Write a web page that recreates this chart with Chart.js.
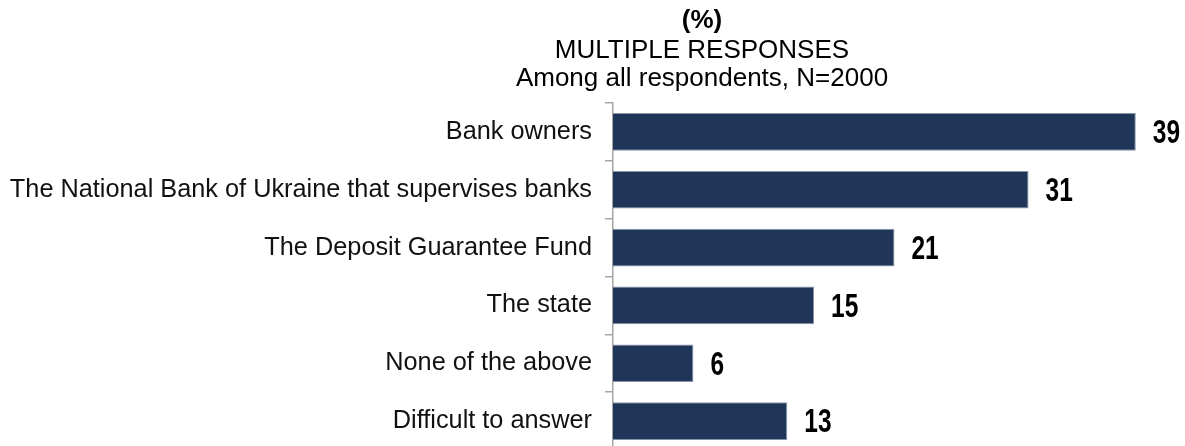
<!DOCTYPE html>
<html>
<head>
<meta charset="utf-8">
<script src="https://cdn.jsdelivr.net/npm/chart.js@4/dist/chart.umd.min.js"></script>
<style>
  html, body { margin: 0; padding: 0; background: #fff; overflow: hidden; }
  #wrap { width: 1185px; height: 450px; }
</style>
</head>
<body>
<div id="wrap"><canvas id="c" width="1185" height="450"></canvas></div>
<script>
const categories = [
  'Bank owners',
  'The National Bank of Ukraine that supervises banks',
  'The Deposit Guarantee Fund',
  'The state',
  'None of the above',
  'Difficult to answer'
];
const shares = [39, 31, 21, 15, 6, 13];
const titleText = '(%)';
const subtitleLines = ['MULTIPLE RESPONSES', 'Among all respondents, N=2000'];

const FONT = '"Liberation Sans", Arial, Helvetica, sans-serif';

// Heading block, centred over the bars
const heading = {
  id: 'heading',
  afterDraw(chart) {
    const ctx = chart.ctx;
    const cx = 702;
    ctx.save();
    ctx.fillStyle = '#000';
    ctx.textAlign = 'center';
    ctx.textBaseline = 'middle';
    ctx.font = 'bold 26px ' + FONT;
    ctx.fillText(titleText, cx, 21);
    ctx.font = '26px ' + FONT;
    ctx.fillText(subtitleLines[0], cx, 51);
    ctx.fillText(subtitleLines[1], cx, 79);
    ctx.restore();
  }
};

// Bold condensed value printed to the right of each bar
const valueLabels = {
  id: 'valueLabels',
  afterDatasetsDraw(chart) {
    const ctx = chart.ctx;
    const meta = chart.getDatasetMeta(0);
    const squeeze = 0.72;
    ctx.save();
    ctx.fillStyle = '#000';
    ctx.font = 'bold 34px ' + FONT;
    ctx.textAlign = 'left';
    ctx.textBaseline = 'middle';
    meta.data.forEach((bar, i) => {
      ctx.save();
      ctx.translate(bar.x + 17, bar.y + 2);
      ctx.scale(squeeze, 1);
      ctx.fillText(String(shares[i]), 0, 0);
      ctx.restore();
    });
    ctx.restore();
  }
};

new Chart(document.getElementById('c'), {
  type: 'bar',
  data: {
    labels: categories,
    datasets: [{
      data: shares,
      backgroundColor: '#1f3659',
      borderColor: '#8795a8',
      borderWidth: 1,
      categoryPercentage: 0.65,
      barPercentage: 1.0
    }]
  },
  options: {
    indexAxis: 'y',
    responsive: false,
    animation: false,
    layout: { padding: { left: 0, right: 9, top: 103, bottom: 0 } },
    plugins: {
      legend: { display: false },
      tooltip: { enabled: false },
      title: { display: false },
      subtitle: { display: false }
    },
    scales: {
      x: {
        display: false,
        min: 0,
        max: 42
      },
      y: {
        offset: true,
        afterFit(scale) {
          scale.width = 613;
          scale.paddingTop = 0;
          scale.paddingBottom = 0;
        },
        border: { display: true, color: '#a6a6a6', width: 1.5 },
        grid: {
          offset: true,
          drawOnChartArea: false,
          drawTicks: true,
          tickLength: 8,
          color: '#a6a6a6',
          lineWidth: 1.5
        },
        ticks: {
          color: '#111',
          padding: 13,
          font: { family: FONT, size: 25.3 }
        }
      }
    }
  },
  plugins: [valueLabels, heading]
});
</script>
</body>
</html>
